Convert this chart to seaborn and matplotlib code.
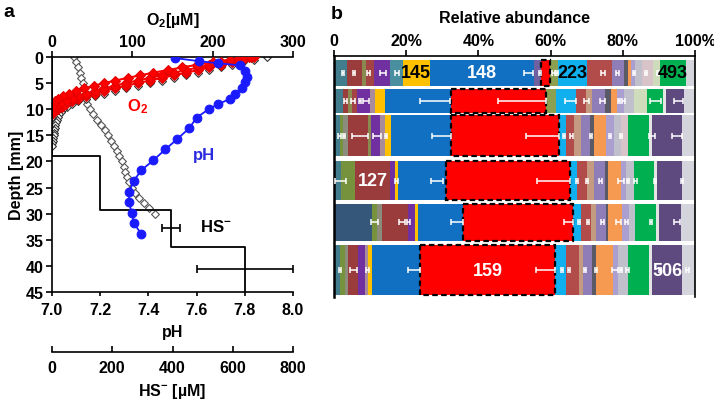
import numpy as np
import matplotlib
matplotlib.use('Agg')
import matplotlib.pyplot as plt
import seaborn as sns

# ---------------- panel a : microprofiles ----------------
o2_step = 0.5  # mm between O2 readings
# three overlapping replicate O2 profiles (red band)
o2_red_a = [248, 222, 200, 180, 162, 144, 126, 110, 94, 79, 65, 52, 40, 30, 21, 14,
            8, 4, 1.5, 0]
o2_red_b = [245, 230, 210, 196, 182, 167, 152, 137, 122, 107, 92, 78, 65, 53, 42, 33,
            25, 17, 10, 5, 2, 0]
o2_red_c = [252, 238, 224, 210, 196, 182, 167, 152, 137, 122, 107, 92, 78, 65, 53, 42,
            33, 25, 18, 12, 7, 3, 0]
o2_open = [267, 252, 238, 224, 210, 196, 182, 167, 152, 137, 122, 107, 92, 78, 65, 53,
           42, 33, 25, 19, 14, 11, 9, 7.5, 6, 5, 4, 3.5, 3, 2.5, 2, 1.5, 1, 0.5, 0]
open_left_step = 1.0
open_left = [27, 30, 32.5, 34.5, 36.5, 38, 39.5, 41, 42.5, 44, 47, 51, 56, 61, 66, 70,
             74, 77.5, 81, 84, 87, 89.5, 91.5, 93.5, 96, 99, 103, 108, 114, 121, 128]

ph_depth = [0.2, 0.8, 1.2, 1.6, 2.6, 3.8, 4.8, 6.0, 7.0, 8.0, 9.0, 10.0, 11.6, 13.6,
            15.7, 17.7, 19.8, 21.7, 23.7, 25.8, 27.8, 29.8, 31.8, 33.9]
ph_values = [7.51, 7.61, 7.69, 7.78, 7.80, 7.81, 7.80, 7.79, 7.76, 7.74, 7.69, 7.65,
             7.60, 7.57, 7.52, 7.47, 7.42, 7.37, 7.34, 7.32, 7.32, 7.33, 7.34, 7.37]

hs_values = [0, 160, 395, 640]
hs_edges = [0, 19, 29.2, 36.3, 45]
hs_err_depth = [32.8, 40.6]
hs_err_mean = [395, 640]
hs_err_sd = [30, 160]

# ---------------- panel b : relative abundance ----------------
row_top = [0.6, 6.3, 11.3, 20.0, 28.2, 36.2]
row_bottom = [5.7, 10.9, 19.0, 27.6, 35.4, 45.8]

taxa_colors = ['#417d8c', '#35587a', '#76923c', '#8c8c7c', '#9a3c3c', '#8a8a50',
               '#a34343', '#7030a0', '#a88c9c', '#4a8fa0', '#ffc000', '#1170c2',
               '#7060a0', '#ff0000', '#8ca050', '#10b0ee', '#b24c4a', '#c49a80',
               '#8f7db8', '#5a5a66', '#f59a50', '#ab9fd0', '#c0c0cc', '#d8c4c8',
               '#cfdcbc', '#00b050', '#e4e4e4', '#5f4a80', '#d4d4dc']
red_taxon = 13

row_widths = [
    [3.5, 0, 0, 0, 4.2, 1.1, 2.2, 4.5, 0, 3.5, 7.5, 29.0, 1.9, 2.3, 2.3, 8.2, 6.8, 0,
     3.4, 0.9, 0.9, 1.3, 1.8, 3.2, 1.8, 7.3, 0, 0, 2.4],
    [2.5, 0, 0, 0, 1.4, 1.0, 1.4, 3.7, 1.4, 0, 2.6, 18.5, 0, 26.2, 2.8, 5.5, 2.8, 1.8,
     3.4, 1.8, 1.7, 1.8, 2.8, 0, 3.7, 4.2, 0.9, 5.1, 3.0],
    [1.6, 0, 0.9, 1.4, 5.5, 0.9, 0, 2.4, 1.4, 0, 1.8, 16.6, 0, 29.9, 0, 1.9, 2.3, 1.8,
     2.6, 0.9, 3.4, 2.3, 2.0, 1.7, 0, 6.0, 0.9, 8.3, 3.5],
    [2.0, 0, 3.8, 0, 9.7, 0, 0, 1.4, 0, 0, 0.8, 13.4, 0, 34.4, 0, 1.9, 2.8, 1.8,
     3.0, 0.9, 3.6, 1.4, 2.3, 0, 0, 5.5, 0.9, 6.9, 3.5],
    [0, 10.4, 1.4, 1.4, 7.2, 0, 0, 2.0, 0, 0, 0.8, 12.5, 0, 30.6, 0, 2.1, 2.8, 1.4,
     2.7, 0.7, 3.8, 1.8, 1.9, 0, 0, 5.7, 0.9, 5.9, 4.0],
    [1.7, 0, 1.4, 0.9, 2.7, 0, 0, 1.9, 0.9, 0, 0.9, 13.4, 0, 37.5, 0, 3.0, 3.7, 0.9,
     2.7, 0.9, 4.7, 1.4, 2.7, 0, 0, 6.0, 0.9, 8.3, 3.5],
]

# (row, taxon, text, colour)
bar_labels = [(0, 10, '145', 'black'), (0, 11, '148', 'white'), (0, 15, '223', 'black'),
              (0, 25, '493', 'black'), (3, 4, '127', 'white'), (5, 13, '159', 'white'),
              (5, 27, '506', 'white')]

# white error bars per row: (centre %, half width %)
row_errors = [
    [(2.5, 0.3), (5.5, 0.3), (9.5, 0.4), (13.5, 0.8), (17.5, 0.5), (53.8, 1.2), (57, 0.3),
     (60.8, 0.3), (61.8, 0.3), (74.5, 0.6), (78.5, 0.5), (83, 0.3), (86.5, 0.3), (89.8, 0.3)],
    [(3.2, 0.3), (5.2, 0.6), (7.2, 0.3), (8.8, 0.8), (28, 4.2), (52, 6.7), (65.5, 1.5),
     (70, 0.7), (74.5, 0.7), (79, 0.3), (80.2, 0.3), (89, 1.5), (95.5, 1.2)],
    [(1.5, 0.3), (2.8, 0.3), (7.2, 2.2), (12, 1.1), (14.5, 0.3), (29.8, 2.7), (57.8, 4.6),
     (63.8, 0.3), (65.8, 0.5), (71.2, 0.4), (76.5, 0.3), (79.5, 0.3), (88, 0.8), (95, 1.5)],
    [(1.8, 1.5), (17.2, 0.4), (28.6, 1.7), (60.8, 4.7), (67.3, 0.3), (70, 0.3), (73.8, 0.5),
     (79.5, 0.8), (81.5, 0.3), (83.5, 0.3), (89, 0.3), (96.5, 0.3)],
    [(11.2, 1.0), (18.8, 0.9), (20.6, 0.5), (34.1, 1.6), (65, 1.3), (67.8, 0.3), (70.3, 0.3),
     (74.3, 0.4), (78.8, 0.6), (81, 0.3), (87.8, 0.3), (95, 0.8)],
    [(1.7, 0.3), (5.3, 1.0), (9.3, 0.3), (22.2, 1.6), (58.6, 2.7), (63.2, 0.3), (65.2, 0.3),
     (69.5, 0.3), (72.6, 0.3), (77.8, 0.9), (79.6, 0.3), (81.3, 0.3), (90.4, 0.3), (97.8, 0.4)],
]

sns.set_style("ticks")
plt.rcParams['font.family'] = ['Liberation Sans', 'DejaVu Sans']
plt.rcParams['font.weight'] = 'bold'
plt.rcParams['axes.labelweight'] = 'bold'
plt.rcParams['text.color'] = 'black'
plt.rcParams['axes.labelcolor'] = 'black'
plt.rcParams['axes.edgecolor'] = 'black'
plt.rcParams['xtick.color'] = 'black'
plt.rcParams['ytick.color'] = 'black'
plt.rcParams['mathtext.fontset'] = 'custom'
plt.rcParams['mathtext.rm'] = 'Liberation Sans:bold'
plt.rcParams['mathtext.it'] = 'Liberation Sans:bold'
plt.rcParams['mathtext.bf'] = 'Liberation Sans:bold'
plt.rcParams['mathtext.default'] = 'rm'

fs = 11.5
fig = plt.figure(figsize=(7.14, 4.02), dpi=100)

# ---------- panel a ----------
ax = fig.add_axes([0.0728, 0.2711, 0.3376, 0.5846])
ax_o = ax.twiny()
ax_h = ax.twiny()
ax.set_zorder(3)
ax.patch.set_visible(False)

d_left = np.arange(len(open_left)) * open_left_step
d_open = np.arange(len(o2_open)) * o2_step

sns.scatterplot(x=open_left, y=d_left, marker='D', s=16, color='white',
                edgecolor='#555555', linewidth=0.8, ax=ax_o, zorder=2)
sns.scatterplot(x=o2_open, y=d_open, marker='D', s=16, color='white',
                edgecolor='#333333', linewidth=0.8, ax=ax_o, zorder=2)
for vals in (o2_red_c, o2_red_b, o2_red_a):
    dep = np.arange(len(vals)) * o2_step
    sns.lineplot(x=vals, y=dep, sort=False, estimator=None, color='#ff0000',
                 marker='D', markersize=4.8, markeredgecolor='#e00000',
                 linewidth=1.5, ax=ax_o, zorder=3)

sns.lineplot(x=ph_values, y=ph_depth, sort=False, estimator=None, color='#1a1aff',
             marker='o', markersize=6.3, markeredgecolor='#1a1aff', linewidth=1.3, ax=ax)

# HS- step profile
hs_x, hs_y = [], []
for i, v in enumerate(hs_values):
    hs_x += [v, v]
    hs_y += [hs_edges[i], hs_edges[i + 1]]
ax_h.plot(hs_x, hs_y, color='black', lw=1.3)
ax_h.errorbar(hs_err_mean, hs_err_depth, xerr=hs_err_sd, fmt='none', ecolor='black',
              elinewidth=1.2, capsize=3, capthick=1.2)

ax.set_xlim(7, 8)
ax.set_ylim(45, 0)
ax_o.set_xlim(0, 300)
ax_h.set_xlim(0, 800)

ax.set_xticks(np.arange(7, 8.01, 0.2))
ax.set_xticklabels(['%.1f' % t for t in np.arange(7, 8.01, 0.2)])
ax.set_yticks(range(0, 46, 5))
ax_o.set_xticks([0, 100, 200, 300])
ax_h.set_xticks(range(0, 801, 200))

for s in ['top', 'right']:
    ax.spines[s].set_visible(False)
for s in ['bottom', 'left', 'right']:
    ax_o.spines[s].set_visible(False)
for s in ['top', 'left', 'right']:
    ax_h.spines[s].set_visible(False)
for a in (ax, ax_o, ax_h):
    for sp in a.spines.values():
        sp.set_linewidth(1.2)
ax_h.spines['bottom'].set_position(('outward', 43))
ax_h.xaxis.set_ticks_position('bottom')
ax_h.xaxis.set_label_position('bottom')

ax.tick_params(axis='y', direction='out', length=4, width=1.2, labelsize=fs, pad=2)
ax.tick_params(axis='x', direction='out', length=3, width=1.2, labelsize=fs, pad=4)
ax_o.tick_params(axis='x', direction='out', length=4, width=1.2, labelsize=fs, pad=2)
ax_h.tick_params(axis='x', direction='in', length=4, width=1.2, labelsize=fs, pad=6)

ax.set_xlabel('pH', fontsize=fs, labelpad=5)
ax.set_ylabel('Depth [mm]', fontsize=fs, labelpad=1)
ax_o.set_xlabel('O$_2$[µM]', fontsize=fs, labelpad=7)
ax_h.set_xlabel('HS$^{-}$ [µM]', fontsize=fs, labelpad=4)
ax_o.set_ylabel('')

ax_o.text(106, 9.4, 'O$_2$', color='#ff0000', fontsize=12, ha='center', va='center')
ax.text(7.63, 18.6, 'pH', color='#2a2ae0', fontsize=12, ha='center', va='center')
ax.text(7.68, 32.4, 'HS$^{-}$', color='black', fontsize=12, ha='center', va='center')

# ---------- panel b ----------
axb = fig.add_axes([0.4678, 0.2587, 0.5056, 0.5983])
for r, widths in enumerate(row_widths):
    yc = (row_top[r] + row_bottom[r]) / 2
    h = row_bottom[r] - row_top[r]
    lefts = np.concatenate([[0], np.cumsum(widths)[:-1]])
    for k, w in enumerate(widths):
        if w <= 0:
            continue
        if k == red_taxon:
            axb.barh(yc, w, left=lefts[k], height=h, color=taxa_colors[k],
                     edgecolor='black', linewidth=1.6, linestyle=(0, (2.5, 1.5)), zorder=3)
        else:
            axb.barh(yc, w, left=lefts[k], height=h, color=taxa_colors[k], linewidth=0, zorder=2)
    for lab_row, k, txt, col in bar_labels:
        if lab_row == r:
            axb.text(lefts[k] + widths[k] / 2, yc, txt, color=col, fontsize=13,
                     ha='center', va='center', zorder=5)
    cx = [e[0] for e in row_errors[r]]
    ex = [e[1] for e in row_errors[r]]
    axb.errorbar(cx, [yc] * len(cx), xerr=ex, fmt='none', ecolor='white', elinewidth=1.1,
                 capsize=2, capthick=1.1, zorder=4)

axb.set_xlim(0, 100)
axb.set_ylim(46.1, 0)
axb.set_yticks([])
axb.xaxis.tick_top()
axb.xaxis.set_label_position('top')
axb.set_xticks([0, 20, 40, 60, 80, 100])
axb.set_xticklabels(['0', '20%', '40%', '60%', '80%', '100%'])
axb.tick_params(axis='x', direction='out', length=4, width=1.2, labelsize=fs, pad=2)
axb.set_xlabel('Relative abundance', fontsize=fs, labelpad=8)
axb.spines['bottom'].set_visible(False)
axb.spines['left'].set_linewidth(1.8)
axb.spines['right'].set_linewidth(1.2)
axb.spines['top'].set_linewidth(1.2)

fig.text(0.005, 0.99, 'a', fontsize=14, va='top', ha='left')
fig.text(0.463, 0.985, 'b', fontsize=14, va='top', ha='left')

fig.savefig('out.png', dpi=100)
plt.close(fig)
